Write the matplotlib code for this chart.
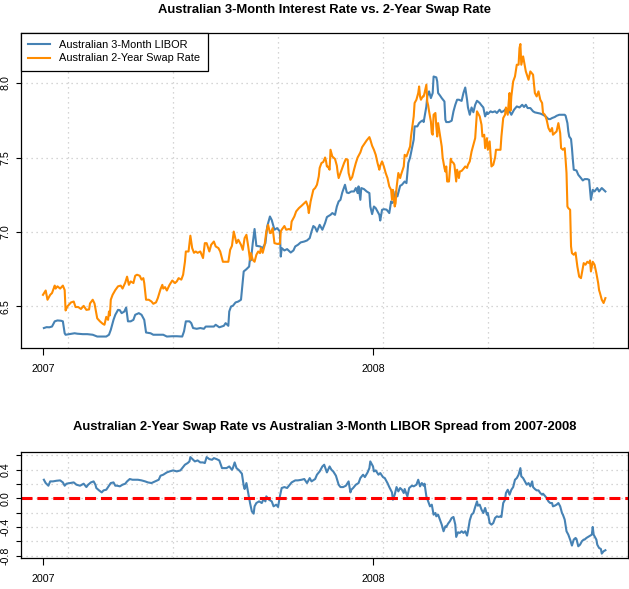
import numpy as np
import matplotlib
matplotlib.use('Agg')
import matplotlib.pyplot as plt
import matplotlib.dates as mdates

plt.rcParams['font.family'] = ['Liberation Sans', 'DejaVu Sans']

# --- data: days since 2007-01-01 and rates (%) ---
libor_day = [1, 4, 7, 10, 13, 16, 20, 22, 24, 25, 29, 35, 38, 44, 49, 55, 60, 66, 70, 73,
             75, 78, 80, 83, 85, 87, 90, 92, 94, 97, 100, 102, 106, 109, 112, 114, 119, 122, 128, 133,
             137, 143, 148, 154, 156, 158, 162, 164, 166, 170, 174, 178, 180, 185, 189, 191, 195, 200, 202, 205,
             206, 208, 210, 213, 216, 219, 220, 221, 222, 225, 228, 229, 230, 232, 234, 236, 240, 243, 246, 248,
             251, 253, 256, 259, 262, 263, 264, 267, 270, 274, 277, 279, 282, 285, 289, 292, 295, 297, 299, 301,
             303, 306, 309, 312, 314, 315, 318, 320, 323, 325, 327, 329, 331, 334, 336, 338, 341, 344, 346, 348,
             349, 351, 352, 355, 358, 361, 362, 364, 366, 368, 370, 372, 373, 375, 377, 380, 383, 385, 386, 388,
             390, 392, 395, 397, 400, 402, 404, 406, 407, 410, 411, 414, 416, 418, 420, 421, 424, 425, 427, 429,
             431, 432, 435, 436, 437, 439, 441, 444, 445, 446, 449, 452, 454, 456, 458, 460, 463, 465, 467, 469,
             470, 472, 474, 476, 478, 480, 483, 485, 487, 489, 491, 492, 495, 497, 500, 502, 505, 507, 510, 512,
             514, 516, 518, 521, 524, 527, 530, 532, 534, 536, 539, 542, 544, 547, 550, 553, 556, 559, 561, 563,
             566, 568, 571, 574, 577, 578, 580, 581, 582, 584, 585, 586, 587, 590, 592, 595, 597, 599, 602, 604,
             605, 606, 608, 610, 613, 615, 618, 620, 622]
libor = [6.355, 6.361, 6.36, 6.365, 6.40, 6.406, 6.404, 6.40, 6.32, 6.31, 6.314, 6.32, 6.317, 6.314, 6.314, 6.31, 6.298, 6.298, 6.298, 6.31,
         6.343, 6.41, 6.444, 6.477, 6.475, 6.455, 6.466, 6.493, 6.40, 6.40, 6.41, 6.444, 6.455, 6.444, 6.41, 6.325, 6.32, 6.31, 6.31, 6.31,
         6.298, 6.30, 6.30, 6.298, 6.333, 6.40, 6.40, 6.388, 6.355, 6.35, 6.355, 6.35, 6.365, 6.365, 6.365, 6.377, 6.36, 6.37, 6.388, 6.37,
         6.466, 6.50, 6.504, 6.527, 6.533, 6.545, 6.61, 6.68, 6.735, 6.75, 6.768, 6.825, 6.81, 6.925, 7.02, 6.907, 6.903, 6.892, 6.925, 7.037,
         7.104, 7.08, 7.015, 7.026, 7.003, 6.835, 6.892, 6.876, 6.885, 6.862, 6.876, 6.903, 6.914, 6.93, 6.936, 6.943, 6.959, 7.003, 7.04, 7.03,
         7.003, 7.048, 7.015, 7.06, 7.10, 7.104, 7.115, 7.127, 7.115, 7.171, 7.205, 7.216, 7.265, 7.317, 7.265, 7.261, 7.272, 7.272, 7.295, 7.261,
         7.306, 7.216, 7.295, 7.288, 7.272, 7.261, 7.171, 7.12, 7.171, 7.16, 7.138, 7.115, 7.077, 7.149, 7.153, 7.15, 7.127, 7.205, 7.194, 7.205,
         7.272, 7.239, 7.31, 7.317, 7.339, 7.328, 7.463, 7.50, 7.53, 7.62, 7.709, 7.709, 7.731, 7.742, 7.749, 7.738, 7.843, 7.91, 7.944, 7.899,
         7.933, 8.044, 8.038, 8.011, 7.933, 7.917, 7.899, 7.876, 7.754, 7.738, 7.738, 7.747, 7.81, 7.854, 7.888, 7.888, 7.88, 7.933, 7.97, 7.888,
         7.836, 7.787, 7.836, 7.804, 7.854, 7.881, 7.866, 7.85, 7.836, 7.776, 7.804, 7.792, 7.81, 7.804, 7.81, 7.799, 7.821, 7.804, 7.814, 7.828,
         7.804, 7.81, 7.787, 7.821, 7.843, 7.836, 7.854, 7.839, 7.854, 7.832, 7.832, 7.81, 7.803, 7.799, 7.795, 7.787, 7.776, 7.758, 7.758, 7.765,
         7.772, 7.78, 7.787, 7.787, 7.787, 7.78, 7.731, 7.675, 7.641, 7.624, 7.563, 7.485, 7.418, 7.413, 7.384, 7.362, 7.346, 7.355, 7.355, 7.35,
         7.283, 7.216, 7.283, 7.272, 7.295, 7.272, 7.295, 7.283, 7.272]

swap_day = [0, 3, 5, 8, 10, 13, 14, 16, 19, 22, 24, 25, 27, 31, 34, 36, 39, 42, 45, 48,
            51, 52, 55, 57, 59, 60, 63, 66, 68, 70, 72, 73, 74, 75, 77, 80, 83, 86, 88, 91,
            93, 95, 97, 100, 102, 104, 107, 109, 111, 112, 114, 117, 120, 122, 125, 127, 130, 132, 133, 135,
            137, 140, 143, 146, 148, 150, 153, 155, 157, 158, 161, 163, 165, 167, 169, 171, 174, 177, 179, 181,
            184, 186, 189, 191, 194, 196, 199, 202, 205, 207, 209, 211, 214, 216, 219, 221, 223, 225, 227, 229,
            230, 232, 234, 236, 238, 240, 241, 243, 245, 247, 249, 251, 252, 254, 256, 259, 262, 263, 264, 267,
            269, 272, 274, 275, 278, 280, 283, 286, 289, 291, 293, 294, 296, 299, 301, 303, 305, 306, 308, 310,
            312, 313, 314, 315, 317, 318, 320, 323, 325, 326, 327, 329, 331, 333, 335, 337, 338, 340, 342, 344,
            346, 348, 351, 353, 356, 358, 361, 362, 364, 366, 368, 370, 372, 373, 375, 377, 379, 381, 383, 385,
            386, 387, 389, 390, 391, 393, 395, 396, 399, 400, 402, 404, 406, 407, 410, 411, 413, 415, 416, 417,
            418, 420, 421, 422, 424, 425, 426, 427, 429, 430, 431, 432, 434, 435, 436, 437, 439, 441, 442, 444,
            445, 446, 447, 449, 451, 452, 454, 455, 457, 458, 460, 461, 463, 465, 467, 469, 470, 472, 474, 476,
            478, 480, 481, 483, 485, 486, 488, 489, 491, 492, 494, 495, 496, 498, 500, 501, 504, 506, 507, 509,
            511, 512, 514, 515, 516, 517, 518, 520, 522, 524, 526, 527, 528, 529, 531, 534, 537, 539, 542, 544,
            546, 548, 550, 552, 553, 555, 557, 559, 561, 563, 564, 566, 568, 570, 572, 573, 575, 577, 578, 579,
            580, 581, 583, 584, 585, 587, 589, 591, 592, 593, 595, 596, 598, 600, 602, 604, 605, 606, 608, 610,
            612, 614, 615, 616, 618, 620, 622]
swap = [6.578, 6.607, 6.545, 6.578, 6.59, 6.64, 6.62, 6.635, 6.62, 6.64, 6.61, 6.473, 6.50, 6.527, 6.533, 6.496, 6.496, 6.483, 6.504, 6.477,
        6.48, 6.52, 6.545, 6.52, 6.455, 6.42, 6.40, 6.384, 6.377, 6.43, 6.41, 6.466, 6.44, 6.545, 6.578, 6.61, 6.635, 6.64, 6.62, 6.66,
        6.70, 6.645, 6.668, 6.657, 6.706, 6.713, 6.706, 6.68, 6.69, 6.657, 6.545, 6.545, 6.533, 6.518, 6.527, 6.556, 6.616, 6.645, 6.62, 6.63,
        6.607, 6.645, 6.674, 6.657, 6.668, 6.69, 6.68, 6.713, 6.80, 6.869, 6.869, 6.975, 6.892, 6.86, 6.869, 6.86, 6.869, 6.825, 6.925, 6.925,
        6.869, 6.914, 6.936, 6.903, 6.892, 6.869, 6.80, 6.80, 6.80, 6.88, 6.907, 7.003, 6.925, 6.948, 6.914, 6.88, 6.959, 6.981, 6.903, 6.813,
        6.858, 6.813, 6.80, 6.847, 6.869, 6.858, 6.892, 6.86, 6.907, 7.003, 7.048, 6.993, 6.993, 7.026, 6.925, 6.92, 6.92, 7.003, 7.015, 7.04,
        7.015, 7.02, 7.015, 7.07, 7.104, 7.138, 7.16, 7.176, 7.194, 7.205, 7.171, 7.127, 7.205, 7.283, 7.295, 7.317, 7.373, 7.43, 7.463, 7.47,
        7.50, 7.478, 7.44, 7.44, 7.418, 7.552, 7.507, 7.49, 7.445, 7.396, 7.362, 7.396, 7.43, 7.463, 7.49, 7.485, 7.396, 7.35, 7.369, 7.418,
        7.463, 7.50, 7.534, 7.57, 7.597, 7.615, 7.637, 7.62, 7.579, 7.552, 7.518, 7.463, 7.418, 7.445, 7.474, 7.44, 7.396, 7.362, 7.306, 7.283,
        7.216, 7.283, 7.171, 7.194, 7.295, 7.396, 7.362, 7.384, 7.44, 7.518, 7.507, 7.54, 7.574, 7.641, 7.776, 7.866, 7.888, 7.933, 7.977, 7.91,
        7.888, 7.91, 7.91, 7.933, 7.989, 7.876, 7.85, 7.81, 7.742, 7.664, 7.653, 7.787, 7.799, 7.709, 7.641, 7.731, 7.653, 7.574, 7.50, 7.43,
        7.406, 7.44, 7.339, 7.339, 7.492, 7.474, 7.463, 7.451, 7.339, 7.418, 7.362, 7.406, 7.41, 7.424, 7.44, 7.43, 7.451, 7.474, 7.54, 7.586,
        7.63, 7.81, 7.799, 7.776, 7.72, 7.641, 7.653, 7.563, 7.63, 7.552, 7.608, 7.518, 7.44, 7.451, 7.50, 7.552, 7.552, 7.552, 7.641, 7.765,
        7.787, 7.836, 7.787, 7.866, 7.933, 7.814, 7.91, 8.011, 8.044, 8.123, 8.123, 8.235, 8.262, 8.123, 8.179, 8.078, 8.022, 8.078, 8.056, 7.933,
        7.91, 7.944, 7.888, 7.866, 7.799, 7.787, 7.754, 7.698, 7.675, 7.698, 7.653, 7.664, 7.675, 7.731, 7.664, 7.563, 7.552, 7.563, 7.485, 7.396,
        7.171, 7.16, 7.149, 6.903, 6.858, 6.847, 6.862, 6.768, 6.735, 6.70, 6.69, 6.724, 6.791, 6.78, 6.80, 6.791, 6.809, 6.735, 6.80, 6.78,
        6.724, 6.657, 6.61, 6.59, 6.545, 6.523, 6.556]

spread_day = [1, 3, 6, 8, 11, 15, 19, 22, 24, 26, 30, 34, 37, 41, 45, 48, 50, 53, 56, 58,
              59, 62, 65, 67, 70, 72, 75, 78, 80, 82, 85, 88, 91, 93, 96, 99, 102, 105, 109, 113,
              116, 120, 124, 128, 130, 133, 137, 140, 144, 148, 152, 154, 157, 160, 162, 163, 166, 168, 171, 174,
              177, 179, 181, 184, 187, 189, 192, 195, 198, 200, 203, 206, 209, 210, 212, 214, 217, 220, 222, 223,
              225, 227, 229, 231, 233, 234, 236, 239, 242, 244, 246, 247, 250, 253, 255, 258, 260, 262, 264, 267,
              270, 272, 275, 279, 282, 286, 289, 292, 295, 297, 301, 303, 306, 309, 311, 313, 314, 317, 319, 321,
              324, 327, 329, 332, 335, 338, 340, 341, 343, 346, 349, 351, 354, 356, 359, 361, 362, 365, 366, 368,
              371, 373, 376, 378, 381, 383, 386, 387, 389, 391, 393, 395, 397, 399, 400, 403, 405, 408, 410, 413,
              415, 417, 419, 421, 422, 424, 426, 428, 430, 432, 434, 435, 437, 439, 441, 443, 445, 446, 448, 450,
              452, 454, 456, 457, 459, 461, 463, 465, 467, 469, 470, 472, 474, 476, 478, 480, 481, 483, 485, 487,
              489, 491, 492, 494, 496, 498, 500, 502, 504, 506, 507, 509, 511, 512, 514, 516, 518, 520, 522, 524,
              526, 528, 529, 531, 533, 535, 537, 539, 541, 542, 544, 546, 548, 550, 552, 553, 555, 557, 559, 561,
              563, 564, 566, 568, 570, 572, 574, 575, 577, 579, 581, 583, 585, 587, 589, 590, 592, 594, 596, 598,
              599, 601, 604, 607, 608, 609, 612, 613, 615, 617, 618, 620, 622]
spread = [0.259, 0.213, 0.176, 0.236, 0.236, 0.245, 0.25, 0.222, 0.176, 0.204, 0.213, 0.222, 0.19, 0.176, 0.204, 0.157, 0.19, 0.222, 0.236, 0.19,
          0.144, 0.111, 0.083, 0.111, 0.12, 0.157, 0.213, 0.222, 0.176, 0.176, 0.167, 0.19, 0.204, 0.236, 0.269, 0.259, 0.259, 0.259, 0.25, 0.236,
          0.222, 0.213, 0.236, 0.259, 0.315, 0.329, 0.361, 0.375, 0.389, 0.375, 0.389, 0.421, 0.468, 0.491, 0.514, 0.574, 0.537, 0.514, 0.528, 0.50,
          0.50, 0.491, 0.574, 0.546, 0.537, 0.56, 0.546, 0.528, 0.421, 0.421, 0.421, 0.444, 0.398, 0.421, 0.50, 0.421, 0.389, 0.343, 0.176, 0.13,
          0.213, 0.074, -0.065, -0.181, -0.213, -0.111, -0.065, -0.042, -0.065, -0.01, -0.042, 0.028, -0.019, -0.042, -0.111, -0.088, -0.12, 0.028, 0.144, 0.157,
          0.144, 0.176, 0.222, 0.25, 0.25, 0.259, 0.269, 0.213, 0.282, 0.236, 0.269, 0.329, 0.375, 0.444, 0.468, 0.398, 0.361, 0.444, 0.398, 0.375,
          0.315, 0.19, 0.157, 0.157, 0.176, 0.236, 0.083, 0.12, 0.144, 0.19, 0.213, 0.282, 0.329, 0.296, 0.361, 0.421, 0.514, 0.444, 0.375, 0.389,
          0.329, 0.352, 0.296, 0.282, 0.213, 0.157, 0.083, -0.019, 0.051, 0.157, 0.097, 0.144, 0.12, 0.074, 0.13, 0.028, 0.144, 0.176, 0.167, 0.19,
          0.259, 0.167, 0.213, 0.176, 0.204, 0.028, -0.042, -0.111, -0.088, -0.227, -0.204, -0.25, -0.227, -0.296, -0.366, -0.458, -0.389, -0.398, -0.352, -0.319,
          -0.273, -0.259, -0.366, -0.537, -0.472, -0.481, -0.458, -0.481, -0.458, -0.519, -0.458, -0.306, -0.227, -0.204, -0.12, -0.042, -0.102, -0.088, -0.157, -0.204,
          -0.134, -0.227, -0.204, -0.343, -0.366, -0.343, -0.273, -0.25, -0.259, -0.25, -0.259, -0.065, -0.019, 0.074, 0.12, 0.051, 0.12, 0.157, 0.259, 0.282,
          0.329, 0.421, 0.306, 0.282, 0.236, 0.19, 0.213, 0.167, 0.236, 0.157, 0.13, 0.111, 0.111, 0.074, 0.051, 0.065, 0.037, 0.005, -0.042, -0.065,
          -0.065, -0.111, -0.102, -0.088, -0.065, -0.111, -0.204, -0.227, -0.296, -0.458, -0.505, -0.574, -0.657, -0.574, -0.551, -0.565, -0.667, -0.644, -0.597, -0.574,
          -0.574, -0.551, -0.528, -0.505, -0.398, -0.505, -0.574, -0.644, -0.69, -0.704, -0.769, -0.736, -0.722]

grid_day = [28, 144, 260, 376, 492, 608]
year_labels = ['2007', '2008']
year_start = ['2007-01-01', '2008-01-01']

start = np.datetime64('2007-01-01')


def to_num(days):
    return mdates.date2num(start) + np.asarray(days, dtype=float)


libor_x = to_num(libor_day)
swap_x = to_num(swap_day)
spread_x = to_num(spread_day)
grid_x = to_num(grid_day)
tick_x = mdates.date2num(np.array(year_start, dtype='datetime64[D]'))
xlim = to_num([-24.3, 647])

W, H = 629, 589
fig = plt.figure(figsize=(W / 100, H / 100), dpi=100)
ax1 = fig.add_axes([21 / W, 1 - 348 / H, 607 / W, 315 / H])
ax2 = fig.add_axes([21 / W, 1 - 558 / H, 607 / W, 106 / H])

grid_kw = dict(color='#c8c8c8', linestyle=(0, (1, 3)), linewidth=0.9, zorder=0)

# --- top panel ---
for gx in grid_x:
    ax1.axvline(gx, **grid_kw)
for gy in [6.5, 7.0, 7.5, 8.0]:
    ax1.axhline(gy, **grid_kw)
ax1.plot(libor_x, libor, color='steelblue', lw=1.5, label='Australian 3-Month LIBOR')
ax1.plot(swap_x, swap, color='darkorange', lw=1.5, label='Australian 2-Year Swap Rate')
ax1.set_xlim(xlim)
ax1.set_ylim(6.221, 8.336)
ax1.set_yticks([6.5, 7.0, 7.5, 8.0])
ax1.set_yticklabels(['6.5', '7.0', '7.5', '8.0'], rotation=90, va='center')
ax1.text(0.5, 1.073, 'Australian 3-Month Interest Rate vs. 2-Year Swap Rate',
         transform=ax1.transAxes, ha='center', va='center', fontsize=9.4, fontweight='bold')
leg = ax1.legend(loc='upper left', bbox_to_anchor=(0, 1), borderaxespad=0, fontsize=7.9,
                 handlelength=2.0, handletextpad=0.85, borderpad=0.65, labelspacing=0.3,
                 fancybox=False, framealpha=1, edgecolor='black')
leg.get_frame().set_linewidth(0.9)

# --- bottom panel ---
for gx in grid_x:
    ax2.axvline(gx, **grid_kw)
spread_ticks = [-0.8, -0.6, -0.4, -0.2, 0.0, 0.2, 0.4, 0.6]
for gy in spread_ticks:
    ax2.axhline(gy, **grid_kw)
ax2.plot(spread_x, spread, color='steelblue', lw=1.5)
ax2.axhline(0, color='red', lw=2.2, linestyle=(0, (3.6, 1.6)))
ax2.set_xlim(xlim)
ax2.set_ylim(-0.83, 0.645)
ax2.set_yticks(spread_ticks)
ax2.set_yticklabels(['-0.8', '', '-0.4', '', '0.0', '', '0.4', ''], rotation=90, va='center')
ax2.text(0.5, 1.236, 'Australian 2-Year Swap Rate vs Australian 3-Month LIBOR Spread from 2007-2008',
         transform=ax2.transAxes, ha='center', va='center', fontsize=9.4, fontweight='bold')

for ax in (ax1, ax2):
    ax.set_xticks(tick_x)
    ax.set_xticklabels(year_labels)
    ax.tick_params(axis='x', length=5, width=0.8, pad=6.5, labelsize=7.7)
    ax.tick_params(axis='y', length=3.4, width=0.8, pad=4.0, labelsize=7.7)
    for s in ax.spines.values():
        s.set_linewidth(0.9)

fig.savefig('out.png', dpi=100)
